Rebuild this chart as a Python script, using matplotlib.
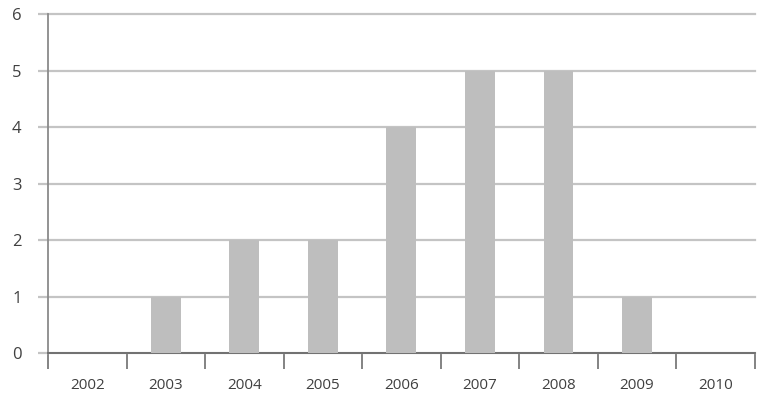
import matplotlib.pyplot as plt
import numpy as np

years = ['2002', '2003', '2004', '2005', '2006', '2007', '2008', '2009', '2010']
counts = [0, 1, 2, 2, 4, 5, 5, 1, 0]
yticks = [0, 1, 2, 3, 4, 5, 6]

fig = plt.figure(figsize=(7.65, 4.04), dpi=100)
ax = fig.add_axes([0.0627, 0.126, 0.924, 0.839])

x = np.arange(len(years))
ax.bar(x, counts, width=0.38, color='#bebebe', zorder=3)

ax.set_xlim(-0.5, len(years) - 0.5)
ax.set_ylim(0, 6)
ax.set_yticks(yticks)
ax.set_yticklabels([str(v) for v in yticks])
ax.yaxis.grid(True, color='#c4c4c4', linewidth=1.6, zorder=0)
for gl in ax.get_ygridlines():
    gl.set_clip_on(False)

# category ticks sit between the bars, labels in the middle
ax.set_xticks(np.arange(len(years) + 1) - 0.5)
ax.set_xticklabels([])
ax.set_xticks(x, minor=True)
ax.set_xticklabels(years, minor=True)
ax.tick_params(axis='x', which='major', length=11.5, width=1.3, color='#7a7a7a')
ax.tick_params(axis='x', which='minor', length=0, pad=18, labelsize=11, labelcolor='#404040')
ax.tick_params(axis='y', length=7, width=1.6, color='#c4c4c4', pad=12, labelsize=12,
               labelcolor='#404040')

for s in ['top', 'right']:
    ax.spines[s].set_visible(False)
ax.spines['left'].set_color('#8a8a8a')
ax.spines['left'].set_linewidth(1.3)
ax.spines['bottom'].set_color('#6a6a6a')
ax.spines['bottom'].set_linewidth(1.3)

for t in ax.get_xticklabels(minor=True) + ax.get_yticklabels():
    t.set_fontfamily('Open Sans')

fig.savefig('out.png', dpi=100)
